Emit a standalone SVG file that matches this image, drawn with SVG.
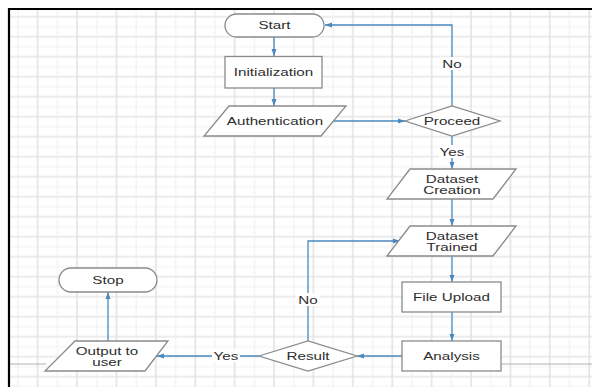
<svg xmlns="http://www.w3.org/2000/svg" width="592" height="387" viewBox="0 0 592 387">
<style>
.shape{fill:#fff;stroke:#8a8a8a;stroke-width:1.3}
.conn{fill:none;stroke:#4a88bd;stroke-width:1.3}
.t{font-family:"Liberation Sans",Arial,sans-serif;font-size:10px;fill:#2e2e2e;text-anchor:middle}
.lblbg{fill:#fff}
</style>
<defs>
<pattern id="grid" x="8" y="1.7" width="39.4" height="20" patternUnits="userSpaceOnUse">
<line x1="0" y1="5" x2="39.4" y2="5" stroke="#f1f1f1" stroke-width="1"/>
<line x1="0" y1="15" x2="39.4" y2="15" stroke="#e6e6e6" stroke-width="1.3"/>
<line x1="10" y1="0" x2="10" y2="20" stroke="#eeeeee" stroke-width="1"/>
<line x1="29.7" y1="0" x2="29.7" y2="20" stroke="#e3e3e3" stroke-width="1.6"/>
</pattern>
<marker id="arr" markerWidth="8" markerHeight="6" refX="7" refY="3" orient="auto" markerUnits="userSpaceOnUse">
<path d="M0,0.5 L7,3 L0,5.5 z" fill="#4a88bd"/>
</marker>
</defs>
<rect x="0" y="0" width="592" height="387" fill="#fff"/>
<rect x="10" y="10" width="582" height="377" fill="url(#grid)"/>
<line x1="10" y1="364" x2="46" y2="364" stroke="#b0b0b0" stroke-width="1"/>
<line x1="501" y1="364" x2="592" y2="364" stroke="#b0b0b0" stroke-width="1"/>
<path d="M9,387 V9 H592" fill="none" stroke="#000" stroke-width="2.2"/>

<g id="connectors">
<line class="conn" x1="274" y1="37" x2="274" y2="56" marker-end="url(#arr)"/>
<line class="conn" x1="274" y1="88" x2="274" y2="106" marker-end="url(#arr)"/>
<line class="conn" x1="333" y1="121" x2="405" y2="121" marker-end="url(#arr)"/>
<path class="conn" d="M452,106 V25 H325" marker-end="url(#arr)"/>
<rect class="lblbg" x="440" y="57" width="24" height="13"/>
<text class="t" transform="translate(452 67.6) scale(1.52 1)">No</text>
<line class="conn" x1="452" y1="136" x2="452" y2="169" marker-end="url(#arr)"/>
<rect class="lblbg" x="439" y="145" width="27" height="13"/>
<text class="t" transform="translate(452 155.6) scale(1.52 1)">Yes</text>
<line class="conn" x1="452" y1="199" x2="452" y2="226" marker-end="url(#arr)"/>
<line class="conn" x1="452" y1="256" x2="452" y2="282" marker-end="url(#arr)"/>
<line class="conn" x1="452" y1="312" x2="452" y2="341" marker-end="url(#arr)"/>
<line class="conn" x1="402" y1="356" x2="357" y2="356" marker-end="url(#arr)"/>
<path class="conn" d="M308,341 V241 H400" marker-end="url(#arr)"/>
<rect class="lblbg" x="296" y="293" width="24" height="13"/>
<text class="t" transform="translate(308 303.6) scale(1.52 1)">No</text>
<line class="conn" x1="259" y1="356" x2="157" y2="356" marker-end="url(#arr)"/>
<rect class="lblbg" x="212" y="349" width="28" height="13"/>
<text class="t" transform="translate(226 359.6) scale(1.52 1)">Yes</text>
<line class="conn" x1="108" y1="341" x2="108" y2="292" marker-end="url(#arr)"/>
</g>

<g id="start">
<rect class="shape" x="225" y="14" width="99" height="23" rx="11.5" ry="11.5"/>
<text class="t" transform="translate(274.5 29) scale(1.52 1)">Start</text>
</g>
<g id="initialization">
<rect class="shape" x="225" y="56.5" width="97" height="31.5"/>
<text class="t" transform="translate(273.5 75.8) scale(1.52 1)">Initialization</text>
</g>
<g id="authentication">
<polygon class="shape" points="229,106 346,106 321,136 204,136"/>
<text class="t" transform="translate(275 124.5) scale(1.52 1)">Authentication</text>
</g>
<g id="proceed">
<polygon class="shape" points="405,121 452,106 500,121 452,136"/>
<text class="t" transform="translate(452 124.5) scale(1.52 1)">Proceed</text>
</g>
<g id="dataset-creation">
<polygon class="shape" points="410,169 516,169 493,199 387,199"/>
<text class="t" transform="translate(452 183) scale(1.52 1)">Dataset</text>
<text class="t" transform="translate(452 194) scale(1.52 1)">Creation</text>
</g>
<g id="dataset-trained">
<polygon class="shape" points="410,226 516,226 493,256 387,256"/>
<text class="t" transform="translate(452 239.5) scale(1.52 1)">Dataset</text>
<text class="t" transform="translate(452 250.5) scale(1.52 1)">Trained</text>
</g>
<g id="file-upload">
<rect class="shape" x="402" y="282" width="99" height="30"/>
<text class="t" transform="translate(451.5 300.5) scale(1.52 1)">File Upload</text>
</g>
<g id="analysis">
<rect class="shape" x="402" y="341" width="99" height="30"/>
<text class="t" transform="translate(451.5 359.5) scale(1.52 1)">Analysis</text>
</g>
<g id="result">
<polygon class="shape" points="259,356 308,341 357,356 308,371"/>
<text class="t" transform="translate(308 359.5) scale(1.52 1)">Result</text>
</g>
<g id="output-to-user">
<polygon class="shape" points="75,341 168,341 145,371 45,371"/>
<text class="t" transform="translate(107 354.5) scale(1.52 1)">Output to</text>
<text class="t" transform="translate(107 365.5) scale(1.52 1)">user</text>
</g>
<g id="stop">
<rect class="shape" x="59" y="268" width="98" height="24" rx="12" ry="12"/>
<text class="t" transform="translate(108 283.5) scale(1.52 1)">Stop</text>
</g>
</svg>
